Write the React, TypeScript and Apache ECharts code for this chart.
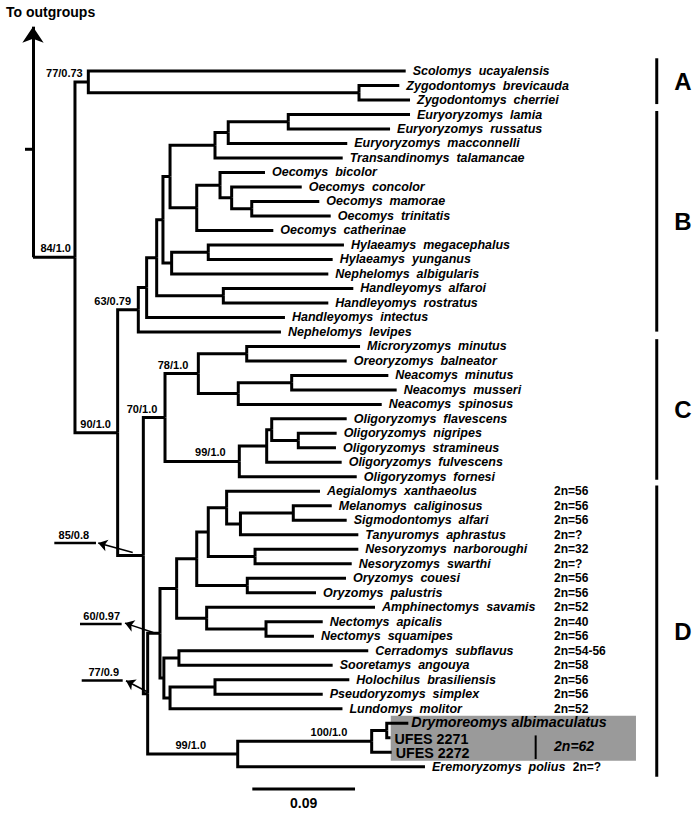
import React, { useEffect, useRef } from "react";
import * as echarts from "echarts";

// ---------------- DATA ----------------
const leafNames = [
  "Scolomys ucayalensis", "Zygodontomys brevicauda", "Zygodontomys cherriei",
  "Euryoryzomys lamia", "Euryoryzomys russatus", "Euryoryzomys macconnelli",
  "Transandinomys talamancae", "Oecomys bicolor", "Oecomys concolor",
  "Oecomys mamorae", "Oecomys trinitatis", "Oecomys catherinae",
  "Hylaeamys megacephalus", "Hylaeamys yunganus", "Nephelomys albigularis",
  "Handleyomys alfaroi", "Handleyomys rostratus", "Handleyomys intectus",
  "Nephelomys levipes", "Microryzomys minutus", "Oreoryzomys balneator",
  "Neacomys minutus", "Neacomys musseri", "Neacomys spinosus",
  "Oligoryzomys flavescens", "Oligoryzomys nigripes", "Oligoryzomys stramineus",
  "Oligoryzomys fulvescens", "Oligoryzomys fornesi", "Aegialomys xanthaeolus",
  "Melanomys caliginosus", "Sigmodontomys alfari", "Tanyuromys aphrastus",
  "Nesoryzomys narboroughi", "Nesoryzomys swarthi", "Oryzomys couesi",
  "Oryzomys palustris", "Amphinectomys savamis", "Nectomys apicalis",
  "Nectomys squamipes", "Cerradomys subflavus", "Sooretamys angouya",
  "Holochilus brasiliensis", "Pseudoryzomys simplex", "Lundomys molitor",
  "Drymoreomys albimaculatus", "UFES 2271", "UFES 2272", "Eremoryzomys polius",
];

// distance of each tip from the root (substitutions/site)
const leafDepths = [
  0.3266, 0.321, 0.3304, 0.3304, 0.3129, 0.2754, 0.2714, 0.2033, 0.2355,
  0.2509, 0.2609, 0.2106, 0.2725, 0.2626, 0.2588, 0.2807, 0.2588, 0.2208,
  0.2173, 0.2866, 0.2749, 0.3114, 0.3187, 0.3056, 0.2749, 0.2661, 0.2655,
  0.2705, 0.2837, 0.2515, 0.2618, 0.2749, 0.2851, 0.2851, 0.2793, 0.2743,
  0.248, 0.2997, 0.2539, 0.2462, 0.2938, 0.2626, 0.2772, 0.2539, 0.2712,
  0.3289, 0.3133, 0.3143, 0.3435,
];

// internal nodes: [id, depth from root, children (leaf index or node id)]
const internalNodes: [string, number, (string | number)[]][] = [
  ["R", 0, ["N84"]],
  ["N84", 0.0368, ["A", "BCD"]],
  ["A", 0.0485, [0, "Zyg"]],
  ["Zyg", 0.2857, [1, 2]],
  ["BCD", 0.0742, ["B", "CD"]],
  ["B", 0.0923, ["B1", 18]],
  ["B1", 0.0996, ["B2", 17]],
  ["B2", 0.1084, ["B3", "Hand"]],
  ["B3", 0.1139, ["B4", "HyN"]],
  ["B4", 0.1201, ["EuT", "Oec"]],
  ["EuT", 0.1595, ["Eu", 6]],
  ["Eu", 0.1711, ["Eu2", 5]],
  ["Eu2", 0.2237, [3, 4]],
  ["Oec", 0.1435, ["Oe1", 11]],
  ["Oe1", 0.1639, [7, "Oe2"]],
  ["Oe2", 0.1741, [8, "Oe3"]],
  ["Oe3", 0.1917, [9, 10]],
  ["HyN", 0.1215, ["Hy", 14]],
  ["Hy", 0.1536, [12, 13]],
  ["Hand", 0.1668, [15, 16]],
  ["CD", 0.0967, ["C", "D"]],
  ["C", 0.1157, ["C1", "Oli"]],
  ["C1", 0.1449, ["MiO", "Nea"]],
  ["MiO", 0.1873, [19, 20]],
  ["Nea", 0.1799, ["Nea2", 23]],
  ["Nea2", 0.2267, [21, 22]],
  ["Oli", 0.1808, ["Ol1", 28]],
  ["Ol1", 0.2048, ["Ol2", 27]],
  ["Ol2", 0.2092, [24, "Ol3"]],
  ["Ol3", 0.2325, [25, 26]],
  ["D", 0.1005, ["D1", "Dry"]],
  ["D1", 0.1113, ["D2", "D9"]],
  ["D2", 0.1259, ["D3", "AmN"]],
  ["D3", 0.1435, ["D4", "Ory"]],
  ["D4", 0.1536, ["D5", "Nes"]],
  ["D5", 0.1697, [29, "D6"]],
  ["D6", 0.1818, ["MeS", 32]],
  ["MeS", 0.2281, [30, 31]],
  ["Nes", 0.1946, [33, 34]],
  ["Ory", 0.1878, [35, 36]],
  ["AmN", 0.1522, [37, "Nec"]],
  ["Nec", 0.2042, [38, 39]],
  ["D9", 0.1147, ["CeS", "HPL"]],
  ["CeS", 0.1279, [40, 41]],
  ["HPL", 0.1201, ["HoP", 44]],
  ["HoP", 0.1595, [42, 43]],
  ["Dry", 0.1794, ["Dry2", 48]],
  ["Dry2", 0.2968, ["Dry3", 47]],
  ["Dry3", 0.31, [45, 46]],
];

// bootstrap / posterior support: [node, label]
const supportLabels: [string, string][] = [
  ["N84", "84/1.0"], ["A", "77/0.73"], ["BCD", "90/1.0"], ["B", "63/0.79"],
  ["C1", "78/1.0"], ["C", "70/1.0"], ["Oli", "99/1.0"], ["Dry2", "100/1.0"],
  ["Dry", "99/1.0"],
];
const arrowSupportLabels: [string, string][] = [
  ["CD", "85/0.8"], ["D1", "60/0.97"], ["D", "77/0.9"],
];

// diploid numbers
const karyotypeLeaves = [29, 30, 31, 32, 33, 34, 35, 36, 37, 38, 39, 40, 41, 42, 43, 44, 48];
const karyotypes = [
  "2n=56", "2n=56", "2n=56", "2n=?", "2n=32", "2n=?", "2n=56", "2n=56", "2n=52",
  "2n=40", "2n=56", "2n=54-56", "2n=58", "2n=56", "2n=56", "2n=52", "2n=?",
];
const newSpeciesKaryotype = "2n=62";

// clades
const cladeNames = ["A", "B", "C", "D"];
const cladeSpans: [number, number][] = [[-0.88, 2.28], [2.76, 17.98], [18.5, 28.2], [28.6, 48.7]];

const scaleBarLength = 0.09;
const scaleBarLabel = "0.09";
const outgroupLabel = "To outgroups";

// ---------------- LAYOUT / STYLE ----------------
const FONT = '"Liberation Sans", Arial, Helvetica, sans-serif';
const X_MIN = -0.0289, X_MAX = 0.5845, Y_MIN = -4.9, Y_MAX = 51.4;
const TREE_W = 3;
const LEAF_GAP = 7;
const LEAF_SIZE = 12.5;
const KARYO_X = 0.4566;
const KARYO_INLINE_X: Record<number, number> = { 48: 0.473 };
const SUPPORT_DX: Record<string, number> = {
  N84: -4, A: -5.6, BCD: -6.7, B: -7.3, C1: -10, C: -7.7, Oli: -13.6, Dry2: -24.4, Dry: -31.7,
};
const ARROW_LAYOUT: Record<string, { text: number[]; line: number[]; head: number[]; tail: number[] }> = {
  CD: { text: [0.0358, 32.0], line: [0.0187, 0.0552, 32.57], head: [0.0572, 32.57], tail: [0.0874, 33.22] },
  D1: { text: [0.0602, 37.57], line: [0.0412, 0.0777, 38.16], head: [0.0806, 38.09], tail: [0.1054, 38.74] },
  D: { text: [0.062, 41.47], line: [0.0427, 0.0786, 42.05], head: [0.0815, 42.07], tail: [0.0996, 42.81] },
};
const SPECIAL_LEAF: Record<string, { size: number; italic: boolean; gap: number; dy: number }> = {
  "Drymoreomys albimaculatus": { size: 14.3, italic: true, gap: 3, dy: -1 },
  "UFES 2271": { size: 14.3, italic: false, gap: 4, dy: 1 },
  "UFES 2272": { size: 14.3, italic: false, gap: 4, dy: 1 },
};
const BOX = { x0: 0.3135, x1: 0.5284, y0: 44.48, y1: 47.59, fill: "#9a9a9a" };
const BOX_BAR = { x: 0.4405, y0: 45.84, y1: 47.47, textY: 46.6 };
const CLADE_X = 0.5466, CLADE_LETTER_X = 0.5696;
const SCALE_POS = { x: 0.1922, y: 49.54, textY: 50.48 };
const ROOT_ARROW_TOP = -3.06;
const ROOT_TICK = { x0: -0.007, y: 5.4 };

// ---------------- TREE LAYOUT ----------------
type Ref = string | number;
const nodeIndex = new Map(internalNodes.map((n) => [n[0], n]));
const posCache = new Map<Ref, [number, number]>();
function nodePos(r: Ref): [number, number] {
  if (posCache.has(r)) return posCache.get(r)!;
  let p: [number, number];
  if (typeof r === "number") p = [leafDepths[r], r];
  else {
    const n = nodeIndex.get(r)!;
    const ch = n[2].map(nodePos);
    p = [n[1], (ch[0][1] + ch[ch.length - 1][1]) / 2];
  }
  posCache.set(r, p);
  return p;
}
const edges: number[][] = [];
internalNodes.forEach(([id, , ch]) => {
  const P = nodePos(id);
  ch.forEach((c) => {
    const C = nodePos(c);
    edges.push([P[0], P[1], C[0], C[1]]);
  });
});

function txt(text: string, x: number, y: number, size: number, o: any = {}) {
  return {
    type: "text",
    x,
    y,
    style: {
      text,
      fill: "#000",
      fontSize: size,
      fontWeight: "bold",
      fontStyle: o.italic ? "italic" : "normal",
      fontFamily: FONT,
      align: o.align || "left",
      verticalAlign: o.va || "middle",
    },
  };
}
function seg(a: number[], b: number[], w: number) {
  return {
    type: "line",
    shape: { x1: a[0], y1: a[1], x2: b[0], y2: b[1] },
    style: { stroke: "#000", lineWidth: w },
  };
}

function buildOption(): any {
  const rootPos = nodePos("R");
  return {
    animation: false,
    backgroundColor: "#fff",
    title: {
      text: outgroupLabel,
      left: 6,
      top: 5,
      padding: 0,
      textStyle: { fontSize: 14, fontWeight: "bold", fontFamily: FONT, color: "#000" },
    },
    grid: { left: 0, right: 0, top: 0, bottom: 0 },
    xAxis: { type: "value", min: X_MIN, max: X_MAX, show: false },
    yAxis: { type: "value", min: Y_MIN, max: Y_MAX, inverse: true, show: false },
    series: [
      {
        type: "custom",
        name: "box",
        z: 1,
        silent: true,
        data: [[BOX.x0, BOX.y0, BOX.x1, BOX.y1]],
        renderItem: (_p: any, api: any) => {
          const a = api.coord([api.value(0), api.value(1)]);
          const b = api.coord([api.value(2), api.value(3)]);
          const bar0 = api.coord([BOX_BAR.x, BOX_BAR.y0]);
          const bar1 = api.coord([BOX_BAR.x, BOX_BAR.y1]);
          const t = api.coord([KARYO_X, BOX_BAR.textY]);
          return {
            type: "group",
            children: [
              { type: "rect", shape: { x: a[0], y: a[1], width: b[0] - a[0], height: b[1] - a[1] }, style: { fill: BOX.fill } },
              seg(bar0, bar1, 2),
              txt(newSpeciesKaryotype, t[0], t[1], 14, { italic: true }),
            ],
          };
        },
      },
      {
        type: "custom",
        name: "tree",
        z: 3,
        silent: true,
        data: edges,
        renderItem: (_p: any, api: any) => {
          const p0 = api.coord([api.value(0), api.value(1)]);
          const p1 = api.coord([api.value(0), api.value(3)]);
          const p2 = api.coord([api.value(2), api.value(3)]);
          return {
            type: "polyline",
            shape: { points: [p0, p1, p2] },
            style: { stroke: "#000", lineWidth: TREE_W, fill: null, lineJoin: "miter" },
          };
        },
      },
      {
        type: "lines",
        coordinateSystem: "cartesian2d",
        z: 3,
        silent: true,
        symbol: ["none", "arrow"],
        symbolSize: [10, 16],
        lineStyle: { color: "#000", width: TREE_W, opacity: 1 },
        data: [{ coords: [[0, rootPos[1]], [0, ROOT_ARROW_TOP]] }],
      },
      {
        type: "custom",
        name: "tick",
        z: 3,
        silent: true,
        data: [[ROOT_TICK.x0, ROOT_TICK.y]],
        renderItem: (_p: any, api: any) => {
          const a = api.coord([api.value(0), api.value(1)]);
          const b = api.coord([0, api.value(1)]);
          return seg(a, b, TREE_W);
        },
      },
      {
        type: "custom",
        name: "leaves",
        z: 4,
        silent: true,
        data: leafNames.map((_n, i) => [leafDepths[i], i]),
        renderItem: (_p: any, api: any) => {
          const i = api.value(1);
          const p = api.coord([api.value(0), i]);
          const name = leafNames[i];
          const sp = SPECIAL_LEAF[name];
          const shown = sp ? name : name.replace(" ", "  ");
          return txt(shown, p[0] + (sp ? sp.gap : LEAF_GAP), p[1] + (sp ? sp.dy : 0), sp ? sp.size : LEAF_SIZE, {
            italic: sp ? sp.italic : true,
          });
        },
      },
      {
        type: "custom",
        name: "karyotypes",
        z: 4,
        silent: true,
        data: karyotypeLeaves.map((li, k) => [KARYO_INLINE_X[li] ?? KARYO_X, li, k]),
        renderItem: (_p: any, api: any) => {
          const p = api.coord([api.value(0), api.value(1)]);
          return txt(karyotypes[api.value(2)], p[0], p[1], 12);
        },
      },
      {
        type: "custom",
        name: "support",
        z: 4,
        silent: true,
        data: supportLabels.map(([id], k) => [...nodePos(id), k]),
        renderItem: (_p: any, api: any) => {
          const k = api.value(2);
          const p = api.coord([api.value(0), api.value(1)]);
          const [id, label] = supportLabels[k];
          return txt(label, p[0] + SUPPORT_DX[id], p[1] - 9, 11, { align: "right" });
        },
      },
      {
        type: "custom",
        name: "arrowSupport",
        z: 4,
        silent: true,
        data: arrowSupportLabels.map((_a, k) => [k]),
        renderItem: (_p: any, api: any) => {
          const [id, label] = arrowSupportLabels[api.value(0)];
          const L = ARROW_LAYOUT[id];
          const t = api.coord(L.text);
          const a = api.coord([L.line[0], L.line[2]]);
          const b = api.coord([L.line[1], L.line[2]]);
          return {
            type: "group",
            children: [txt(label, t[0], t[1], 11, { align: "center" }), seg(a, b, 2.5)],
          };
        },
      },
      {
        type: "lines",
        coordinateSystem: "cartesian2d",
        z: 4,
        silent: true,
        symbol: ["none", "arrow"],
        symbolSize: [6, 9],
        lineStyle: { color: "#000", width: 1.5, opacity: 1 },
        data: arrowSupportLabels.map(([id]) => ({ coords: [ARROW_LAYOUT[id].tail, ARROW_LAYOUT[id].head] })),
      },
      {
        type: "custom",
        name: "clades",
        z: 4,
        silent: true,
        data: cladeSpans.map((s, k) => [CLADE_X, s[0], s[1], k]),
        renderItem: (_p: any, api: any) => {
          const a = api.coord([api.value(0), api.value(1)]);
          const b = api.coord([api.value(0), api.value(2)]);
          const t = api.coord([CLADE_LETTER_X, (api.value(1) + api.value(2)) / 2]);
          return {
            type: "group",
            children: [seg(a, b, 3), txt(cladeNames[api.value(3)], t[0], t[1], 24, { align: "center" })],
          };
        },
      },
      {
        type: "custom",
        name: "scale",
        z: 4,
        silent: true,
        data: [[SCALE_POS.x, SCALE_POS.y]],
        renderItem: (_p: any, api: any) => {
          const a = api.coord([api.value(0), api.value(1)]);
          const b = api.coord([api.value(0) + scaleBarLength, api.value(1)]);
          const t = api.coord([api.value(0) + scaleBarLength / 2, SCALE_POS.textY]);
          return {
            type: "group",
            children: [seg(a, b, 3), txt(scaleBarLabel, t[0], t[1], 14, { align: "center" })],
          };
        },
      },
    ],
  };
}

export default function App() {
  const ref = useRef<HTMLDivElement>(null);
  useEffect(() => {
    const chart = echarts.init(ref.current!, null, { renderer: "svg" });
    chart.setOption(buildOption());
    return () => chart.dispose();
  }, []);
  return (
    <div
      ref={ref}
      style={{ position: "absolute", left: 0, top: 0, width: 700, height: 816, background: "#fff" }}
    />
  );
}
